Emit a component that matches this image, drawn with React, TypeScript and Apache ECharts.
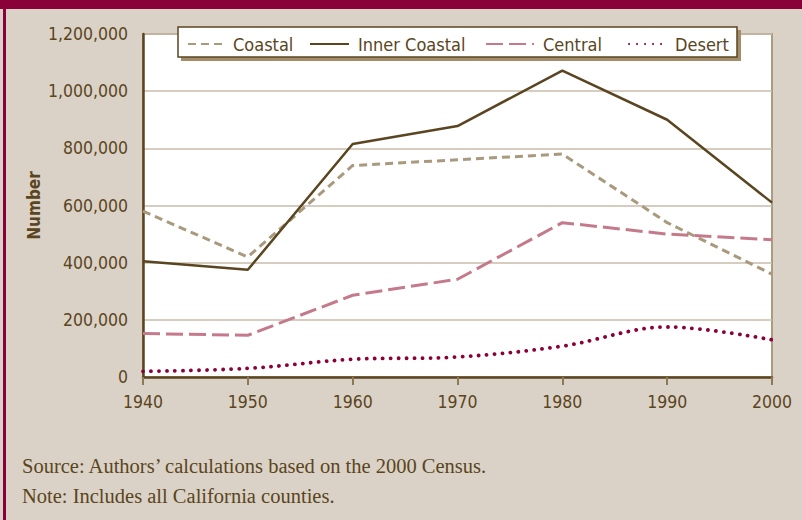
import React, { useEffect, useRef } from "react";
import * as echarts from "echarts";

const years = ["1940", "1950", "1960", "1970", "1980", "1990", "2000"];
const coastal = [580000, 420000, 740000, 760000, 780000, 540000, 360000];
const innerCoastal = [405000, 375000, 815000, 878000, 1072000, 900000, 610000];
const central = [152000, 146000, 286000, 342000, 540000, 500000, 480000];
const desert = [20000, 30000, 62000, 70000, 108000, 175000, 130000];
const seriesNames = ["Coastal", "Inner Coastal", "Central", "Desert"];
const sourceNote = "Source: Authors\u2019 calculations based on the 2000 Census.";
const includeNote = "Note: Includes all California counties.";

const BROWN = "#5a4520";
const TAN = "#a99a7e";
const PINK = "#c57a8b";
const MAROON = "#8a0038";
const BG = "#dad2c7";
const FONT = "'Liberation Sans Narrow', 'DejaVu Sans Condensed', sans-serif";
const SERIF = "'Liberation Serif', 'DejaVu Serif', serif";

export default function App() {
  const ref = useRef<HTMLDivElement>(null);
  useEffect(() => {
    document.body.style.margin = "0";
    const chart = echarts.init(ref.current!, null, { renderer: "svg" });
    const legendPos = [187, 309, 485, 628];
    const legendW = [36, 39, 48, 37];
    chart.setOption({
      animation: false,
      backgroundColor: BG,
      textStyle: { fontFamily: FONT, color: BROWN },
      grid: {
        left: 143,
        right: 30,
        top: 34,
        bottom: 143,
        show: true,
        backgroundColor: "#ffffff",
        borderColor: "#ab9c80",
        borderWidth: 2,
      },
      legend: seriesNames.map((n, i) => ({
        data: [n],
        left: legendPos[i],
        top: 35,
        itemWidth: legendW[i],
        itemHeight: 14,
        padding: 0,
        z: 20,
        itemStyle: { opacity: 0 },
        textStyle: { fontFamily: FONT, fontSize: 18, color: BROWN, padding: [0, 0, 0, 4] },
      })),
      xAxis: {
        type: "category",
        data: years,
        boundaryGap: false,
        axisLine: { lineStyle: { color: BROWN, width: 2.5 } },
        axisTick: { show: true, length: 8, lineStyle: { color: "#8c7a55", width: 2 } },
        axisLabel: { fontFamily: FONT, fontSize: 17.5, color: BROWN, margin: 16 },
        splitLine: { show: false },
      },
      yAxis: {
        type: "value",
        min: 0,
        max: 1200000,
        interval: 200000,
        name: "Number",
        nameLocation: "middle",
        nameGap: 101,
        nameMoveOverlap: false,
        nameRotate: 90,
        nameTextStyle: { fontFamily: FONT, fontSize: 17, fontWeight: "bold", color: BROWN },
        axisLine: { show: true, lineStyle: { color: BROWN, width: 2.5 } },
        axisTick: { show: false },
        axisLabel: {
          fontFamily: FONT,
          fontSize: 17.5,
          color: BROWN,
          margin: 15,
          formatter: (v: number) => v.toLocaleString("en-US"),
        },
        splitLine: { lineStyle: { color: "#c9bdab", width: 1.5 } },
      },
      graphic: [
        { type: "rect", shape: { x: 0, y: 0, width: 802, height: 9 }, style: { fill: MAROON }, z: 1 },
        { type: "rect", shape: { x: 3, y: 0, width: 3, height: 520 }, style: { fill: MAROON }, z: 1 },
        { type: "rect", shape: { x: 181, y: 30, width: 560, height: 31 }, style: { fill: "#a38d6b" }, z: 10 },
        {
          type: "rect",
          shape: { x: 178, y: 27, width: 559, height: 30 },
          style: { fill: "#ffffff", stroke: BROWN, lineWidth: 1.5 },
          z: 11,
        },
        {
          type: "text",
          x: 22,
          y: 466,
          style: { text: sourceNote, font: `20.5px ${SERIF}`, fill: BROWN, textVerticalAlign: "middle" },
        },
        {
          type: "text",
          x: 22,
          y: 496,
          style: { text: includeNote, font: `20.5px ${SERIF}`, fill: BROWN, textVerticalAlign: "middle" },
        },
      ],
      series: [
        {
          name: "Coastal",
          type: "line",
          data: coastal,
          symbol: "none",
          itemStyle: { color: TAN },
          lineStyle: { color: TAN, width: 3, type: [8, 5] },
        },
        {
          name: "Inner Coastal",
          type: "line",
          data: innerCoastal,
          symbol: "none",
          itemStyle: { color: BROWN },
          lineStyle: { color: BROWN, width: 2.5, type: "solid" },
        },
        {
          name: "Central",
          type: "line",
          data: central,
          symbol: "none",
          itemStyle: { color: PINK },
          lineStyle: { color: PINK, width: 3, type: [17, 6] },
        },
        {
          name: "Desert",
          type: "line",
          data: desert,
          symbol: "none",
          smooth: 0.35,
          itemStyle: { color: MAROON },
          lineStyle: { color: MAROON, width: 3.8, type: [0.1, 7.9], cap: "round" },
        },
      ],
    });
    return () => chart.dispose();
  }, []);
  return <div ref={ref} style={{ width: 802, height: 520 }} />;
}
